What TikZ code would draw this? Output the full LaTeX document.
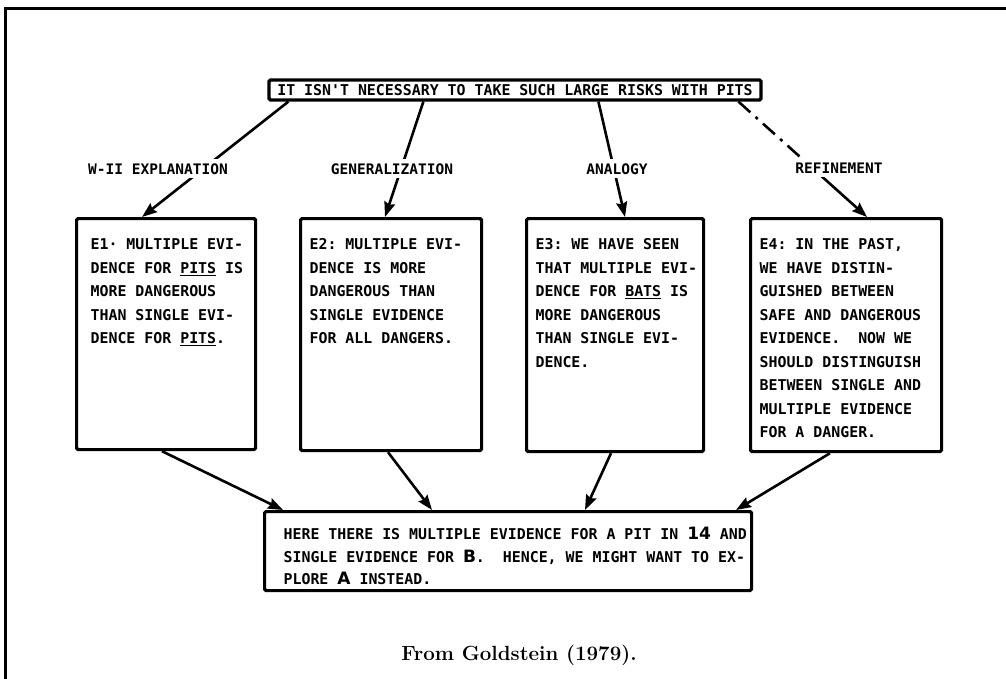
\documentclass[tikz,border=0pt]{standalone}
\usepackage{fontspec}
\usetikzlibrary{arrows.meta,calc}

% printer-style lettering for the argument network
\newfontfamily\printerfont{DejaVu Sans Mono}
\newfontfamily\markfont{DejaVu Sans}
\newcommand\mk[1]{{\markfont\fontsize{17}{17}\selectfont #1}}
% #1 width, #2 height, #3 left inset, #4 first baseline offset, #5 lines
\newcommand\cardtext[5]{\parbox[c][#2][t]{#1}{\raggedright\frenchspacing\leftskip=#3\relax\rule{0pt}{#4}#5}}

\tikzset{
  card/.style={draw, line width=3.2pt, rounded corners=1.5pt, anchor=north west, inner sep=0pt,
    font=\printerfont\bfseries\fontsize{14.9}{23.5}\selectfont},
  link/.style={line width=2.6pt},
  arr/.style={link, -{Stealth[length=15pt,width=11pt,inset=2pt]}},
  dashdot/.style={link, dash pattern=on 16pt off 7pt on 3pt off 7pt},
  rel/.style={fill=white, inner xsep=3pt, inner ysep=0pt, minimum height=19pt,
    font=\printerfont\bfseries\fontsize{14.5}{16}\selectfont},
}

\begin{document}
\begin{tikzpicture}[x=1pt,y=-1pt]
\useasboundingbox (0,0) rectangle (1006,679);

% frame
\draw[line width=3pt] (1006,9) -- (5,9) -- (5,679);

% claim
\node[card, anchor=center, minimum width=492pt, minimum height=20pt,
  font=\printerfont\bfseries\fontsize{14.9}{16}\selectfont]
  (top) at (515,90) {IT ISN'T NECESSARY TO TAKE SUCH LARGE RISKS WITH PITS};

% supporting arguments
\node[card] (e1) at (75,217) {\cardtext{179pt}{231pt}{14pt}{31pt}{%
E1· MULTIPLE EVI-\\DENCE FOR \underline{PITS} IS\\MORE DANGEROUS\\THAN SINGLE EVI-\\DENCE FOR \underline{PITS}.}};
\node[card] (e2) at (299,217) {\cardtext{181pt}{232pt}{9pt}{31pt}{%
E2: MULTIPLE EVI-\\DENCE IS MORE\\DANGEROUS THAN\\SINGLE EVIDENCE\\FOR ALL DANGERS.}};
\node[card] (e3) at (525,217) {\cardtext{177pt}{233pt}{9pt}{31pt}{%
E3: WE HAVE SEEN\\THAT MULTIPLE EVI-\\DENCE FOR \underline{BATS} IS\\MORE DANGEROUS\\THAN SINGLE EVI-\\DENCE.}};
\node[card] (e4) at (749,217) {\cardtext{191pt}{233pt}{9pt}{31pt}{%
E4: IN THE PAST,\\WE HAVE DISTIN-\\GUISHED BETWEEN\\SAFE AND DANGEROUS\\EVIDENCE.~ NOW WE\\SHOULD DISTINGUISH\\BETWEEN SINGLE AND\\MULTIPLE EVIDENCE\\FOR A DANGER.}};

% conclusion
\node[card, font=\printerfont\bfseries\fontsize{14.9}{22.5}\selectfont]
  (bot) at (263,510) {\cardtext{487pt}{79pt}{19pt}{28pt}{%
HERE THERE IS MULTIPLE EVIDENCE FOR A PIT IN \mk{14} AND\\SINGLE EVIDENCE FOR \mk{B}.~ HENCE, WE MIGHT WANT TO EX-\\PLORE \mk{A} INSTEAD.}};

% claim to arguments
\draw[arr] ($(top.south west)+(21,0)$) -- ($(e1.north west)+(67,0)$);
\draw[arr] ($(top.south west)+(156,0)$) -- ($(e2.north west)+(86,0)$);
\draw[arr] ($(top.south west)+(331,0)$) -- ($(e3.north west)+(100,0)$);
\coordinate (rfa) at ($(top.south west)+(471,0)$);
\coordinate (rfb) at ($(e4.north west)+(118,0)$);
\coordinate (rfm) at ($(rfa)!0.57!(rfb)$);
\draw[dashdot] (rfa) -- (rfm);
\draw[arr] (rfm) -- (rfb);

% relation labels
\node[rel] (l1) at (158,169) {W-II EXPLANATION};
\node[rel] (l2) at (392,169) {GENERALIZATION};
\node[rel] (l3) at (617,169) {ANALOGY};
\node[rel] (l4) at (839,168) {REFINEMENT};

% arguments to conclusion
\draw[arr] ($(e1.south west)+(87,0)$) -- ($(bot.north west)+(20,0)$);
\draw[arr] ($(e2.south west)+(89,0)$) -- ($(bot.north west)+(169,0)$);
\draw[arr] ($(e3.south west)+(86,0)$) -- ($(bot.north west)+(322,0)$);
\draw[arr] ($(e4.south west)+(81,0)$) -- ($(bot.north west)+(473,0)$);

% caption
\node[font=\fontsize{20.5}{24}\selectfont\bfseries] (cap) at (519,655) {From Goldstein (1979).};
\end{tikzpicture}
\end{document}
